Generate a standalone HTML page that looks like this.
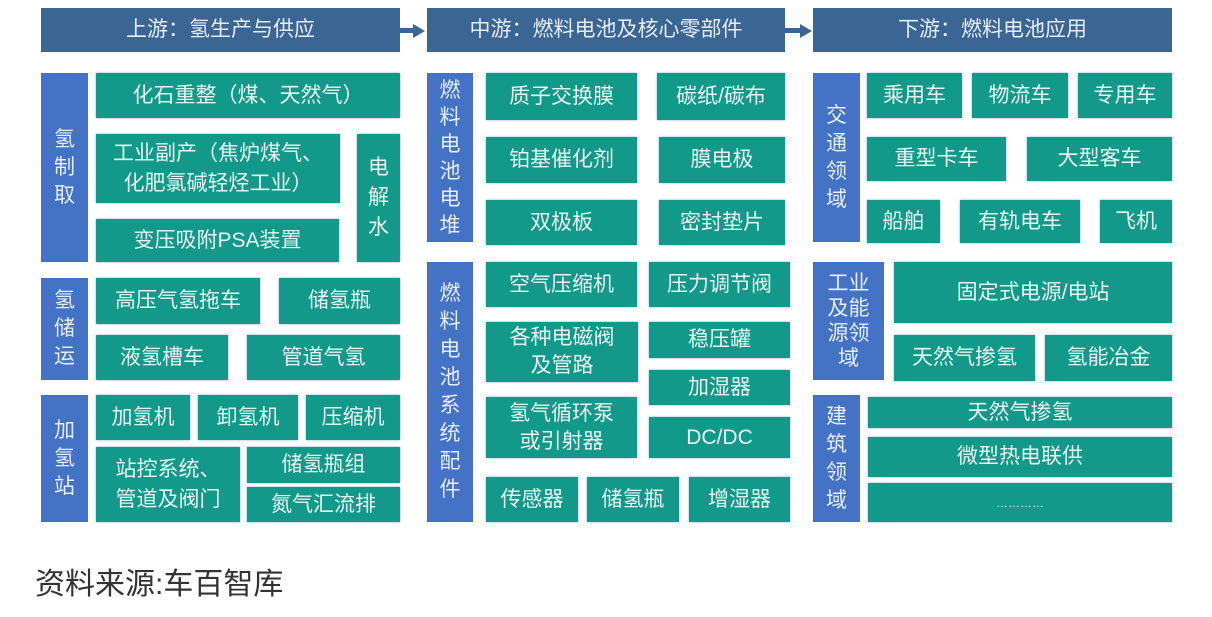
<!DOCTYPE html>
<html><head><meta charset="utf-8"><style>
body{margin:0;width:1212px;height:617px;background:#fff;position:relative;overflow:hidden;font-family:"Liberation Sans","Noto Sans CJK SC",sans-serif}
div.b{position:absolute;display:flex;align-items:center;justify-content:center;text-align:center;color:#e8f4f2;font-size:21px;line-height:26px;box-sizing:border-box}
.h{background:#3b6592;color:#e6ecf3!important}
.s{background:#4472c4;color:#e6ecf8!important;line-height:28px!important;padding:0 4px}
.t{background:#12998a;box-shadow:0 0 2px #7fa9c8}
.ar{position:absolute;top:24px;width:0;height:0;border-left:12px solid #3b6592;border-top:7px solid transparent;border-bottom:7px solid transparent}
.al{position:absolute;top:28px;height:5px;background:#3b6592}
</style></head><body>
<div class="b h" style="left:41px;top:8px;width:359px;height:44px">上游：氢生产与供应</div>
<div class="b h" style="left:427px;top:8px;width:358px;height:44px">中游：燃料电池及核心零部件</div>
<div class="b h" style="left:813px;top:8px;width:359px;height:44px">下游：燃料电池应用</div>
<div class="al" style="left:400px;width:14px"></div><div class="ar" style="left:413px"></div>
<div class="al" style="left:785px;width:16px"></div><div class="ar" style="left:800px"></div>

<div class="b s" style="left:41px;top:73px;width:47px;height:189px">氢<br>制<br>取</div>
<div class="b t" style="left:96px;top:73px;width:304px;height:45px">化石重整（煤、天然气）</div>
<div class="b t" style="left:96px;top:134px;width:244px;height:69px;line-height:30px">工业副产（焦炉煤气、<br>化肥氯碱轻烃工业）</div>
<div class="b t" style="left:357px;top:134px;width:43px;height:128px;line-height:30px">电<br>解<br>水</div>
<div class="b t" style="left:96px;top:219px;width:243px;height:43px">变压吸附PSA装置</div>
<div class="b s" style="left:41px;top:278px;width:47px;height:102px">氢<br>储<br>运</div>
<div class="b t" style="left:96px;top:278px;width:164px;height:46px">高压气氢拖车</div>
<div class="b t" style="left:279px;top:278px;width:121px;height:46px">储氢瓶</div>
<div class="b t" style="left:96px;top:335px;width:132px;height:45px">液氢槽车</div>
<div class="b t" style="left:247px;top:335px;width:153px;height:45px">管道气氢</div>
<div class="b s" style="left:41px;top:395px;width:47px;height:127px">加<br>氢<br>站</div>
<div class="b t" style="left:96px;top:395px;width:94px;height:45px">加氢机</div>
<div class="b t" style="left:198px;top:395px;width:100px;height:45px">卸氢机</div>
<div class="b t" style="left:306px;top:395px;width:94px;height:45px">压缩机</div>
<div class="b t" style="left:96px;top:447px;width:144px;height:75px;line-height:30px">站控系统、<br>管道及阀门</div>
<div class="b t" style="left:247px;top:447px;width:153px;height:36px">储氢瓶组</div>
<div class="b t" style="left:247px;top:487px;width:153px;height:35px">氮气汇流排</div>

<div class="b s" style="left:427px;top:73px;width:46px;height:169px;line-height:27px!important">燃<br>料<br>电<br>池<br>电<br>堆</div>
<div class="b t" style="left:486px;top:73px;width:151px;height:47px">质子交换膜</div>
<div class="b t" style="left:657px;top:73px;width:128px;height:47px">碳纸/碳布</div>
<div class="b t" style="left:486px;top:137px;width:151px;height:46px">铂基催化剂</div>
<div class="b t" style="left:659px;top:137px;width:126px;height:46px">膜电极</div>
<div class="b t" style="left:486px;top:200px;width:151px;height:45px">双极板</div>
<div class="b t" style="left:659px;top:200px;width:126px;height:45px">密封垫片</div>
<div class="b s" style="left:427px;top:262px;width:46px;height:260px">燃<br>料<br>电<br>池<br>系<br>统<br>配<br>件</div>
<div class="b t" style="left:486px;top:262px;width:151px;height:45px">空气压缩机</div>
<div class="b t" style="left:649px;top:262px;width:141px;height:45px">压力调节阀</div>
<div class="b t" style="left:486px;top:322px;width:152px;height:60px;line-height:28px">各种电磁阀<br>及管路</div>
<div class="b t" style="left:649px;top:322px;width:141px;height:36px">稳压罐</div>
<div class="b t" style="left:649px;top:370px;width:141px;height:35px">加湿器</div>
<div class="b t" style="left:486px;top:397px;width:151px;height:61px;line-height:28px">氢气循环泵<br>或引射器</div>
<div class="b t" style="left:649px;top:417px;width:141px;height:41px">DC/DC</div>
<div class="b t" style="left:486px;top:477px;width:92px;height:45px">传感器</div>
<div class="b t" style="left:587px;top:477px;width:92px;height:45px">储氢瓶</div>
<div class="b t" style="left:689px;top:477px;width:101px;height:45px">增湿器</div>

<div class="b s" style="left:813px;top:73px;width:47px;height:169px">交<br>通<br>领<br>域</div>
<div class="b t" style="left:867px;top:73px;width:95px;height:45px">乘用车</div>
<div class="b t" style="left:972px;top:73px;width:96px;height:45px">物流车</div>
<div class="b t" style="left:1078px;top:73px;width:94px;height:45px">专用车</div>
<div class="b t" style="left:867px;top:137px;width:139px;height:44px">重型卡车</div>
<div class="b t" style="left:1027px;top:137px;width:145px;height:44px">大型客车</div>
<div class="b t" style="left:867px;top:200px;width:73px;height:43px">船舶</div>
<div class="b t" style="left:960px;top:200px;width:120px;height:43px">有轨电车</div>
<div class="b t" style="left:1100px;top:200px;width:72px;height:43px">飞机</div>
<div class="b s" style="left:813px;top:262px;width:71px;height:118px;line-height:25px!important">工业<br>及能<br>源领<br>域</div>
<div class="b t" style="left:894px;top:262px;width:278px;height:61px">固定式电源/电站</div>
<div class="b t" style="left:894px;top:335px;width:141px;height:46px">天然气掺氢</div>
<div class="b t" style="left:1045px;top:335px;width:127px;height:46px">氢能冶金</div>
<div class="b s" style="left:813px;top:395px;width:47px;height:127px">建<br>筑<br>领<br>域</div>
<div class="b t" style="left:868px;top:397px;width:304px;height:31px">天然气掺氢</div>
<div class="b t" style="left:868px;top:437px;width:304px;height:40px">微型热电联供</div>
<div class="b t" style="left:868px;top:483px;width:304px;height:39px;font-size:12px">…………</div>

<div style="position:absolute;left:35px;top:566px;font-size:30px;line-height:38px;color:#333;font-family:'Liberation Sans','Noto Sans CJK SC',sans-serif">资料来源:车百智库</div>
</body></html>
